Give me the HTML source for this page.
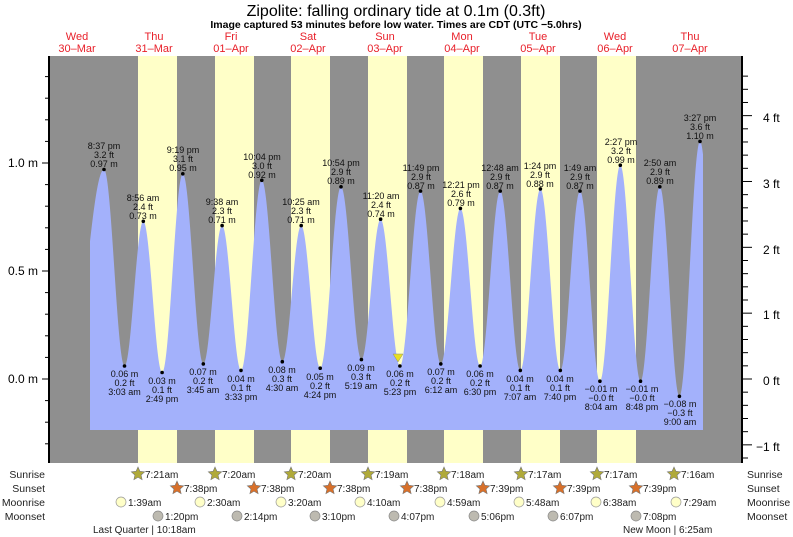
<!DOCTYPE html>
<html><head><meta charset="utf-8"><style>
html,body{margin:0;padding:0;background:#fff;}
svg{display:block;font-family:"Liberation Sans",sans-serif;}
</style></head><body>
<svg id="s" width="793" height="537" viewBox="0 0 793 537" xmlns="http://www.w3.org/2000/svg">
<text x="396" y="16" font-size="16" text-anchor="middle">Zipolite: falling  ordinary tide at 0.1m (0.3ft)</text>
<text x="396" y="28" font-size="10.5" font-weight="bold" text-anchor="middle">Image captured 53 minutes before low water. Times are CDT (UTC −5.0hrs)</text>
<g font-size="11" fill="#e8202a" text-anchor="middle">
<text x="77" y="40">Wed</text><text x="77" y="52">30–Mar</text>
<text x="154" y="40">Thu</text><text x="154" y="52">31–Mar</text>
<text x="231" y="40">Fri</text><text x="231" y="52">01–Apr</text>
<text x="308" y="40">Sat</text><text x="308" y="52">02–Apr</text>
<text x="385" y="40">Sun</text><text x="385" y="52">03–Apr</text>
<text x="462" y="40">Mon</text><text x="462" y="52">04–Apr</text>
<text x="538" y="40">Tue</text><text x="538" y="52">05–Apr</text>
<text x="615" y="40">Wed</text><text x="615" y="52">06–Apr</text>
<text x="690" y="40">Thu</text><text x="690" y="52">07–Apr</text>
</g>
<rect x="49" y="56" width="693" height="407" fill="#8f8f8f"/>
<g fill="#ffffc8">
<rect x="138" y="56" width="39" height="407"/><rect x="215" y="56" width="39" height="407"/>
<rect x="291" y="56" width="39" height="407"/><rect x="368" y="56" width="39" height="407"/>
<rect x="444" y="56" width="39" height="407"/><rect x="521" y="56" width="39" height="407"/>
<rect x="597" y="56" width="39" height="407"/>
</g>
<path id="tide" fill="#a3b1fb" d=""/>
<line x1="49" y1="56" x2="49" y2="463" stroke="#000" stroke-width="2"/>
<line x1="742" y1="56" x2="742" y2="463" stroke="#000" stroke-width="2"/>
<g id="ticks" stroke="#000" stroke-width="1"></g>
<g font-size="12" text-anchor="end">
<text x="38" y="167">1.0 m</text><text x="38" y="275">0.5 m</text><text x="38" y="383">0.0 m</text>
</g>
<g font-size="12">
<text x="763" y="122">4 ft</text><text x="763" y="188">3 ft</text><text x="763" y="254">2 ft</text>
<text x="763" y="319">1 ft</text><text x="763" y="385">0 ft</text><text x="756" y="451">−1 ft</text>
</g>
<polygon points="393,354 403,354 398,362" fill="#e8e020" stroke="#888" stroke-width="0.5"/>
<g id="dots" fill="#000"></g>
<g font-size="9" text-anchor="middle" fill="#111">
<text x="104" y="149">8:37 pm</text><text x="104" y="158">3.2 ft</text><text x="104" y="167">0.97 m</text>
<text x="124.5" y="377">0.06 m</text><text x="124.5" y="386">0.2 ft</text><text x="124.5" y="395">3:03 am</text>
<text x="143" y="201">8:56 am</text><text x="143" y="210">2.4 ft</text><text x="143" y="219">0.73 m</text>
<text x="162" y="384">0.03 m</text><text x="162" y="393">0.1 ft</text><text x="162" y="402">2:49 pm</text>
<text x="183" y="153">9:19 pm</text><text x="183" y="162">3.1 ft</text><text x="183" y="171">0.95 m</text>
<text x="203" y="375">0.07 m</text><text x="203" y="384">0.2 ft</text><text x="203" y="393">3:45 am</text>
<text x="222" y="205">9:38 am</text><text x="222" y="214">2.3 ft</text><text x="222" y="223">0.71 m</text>
<text x="241" y="382">0.04 m</text><text x="241" y="391">0.1 ft</text><text x="241" y="400">3:33 pm</text>
<text x="262" y="160">10:04 pm</text><text x="262" y="169">3.0 ft</text><text x="262" y="178">0.92 m</text>
<text x="282" y="373">0.08 m</text><text x="282" y="382">0.3 ft</text><text x="282" y="391">4:30 am</text>
<text x="301" y="205">10:25 am</text><text x="301" y="214">2.3 ft</text><text x="301" y="223">0.71 m</text>
<text x="320" y="380">0.05 m</text><text x="320" y="389">0.2 ft</text><text x="320" y="398">4:24 pm</text>
<text x="341" y="166">10:54 pm</text><text x="341" y="175">2.9 ft</text><text x="341" y="184">0.89 m</text>
<text x="361" y="371">0.09 m</text><text x="361" y="380">0.3 ft</text><text x="361" y="389">5:19 am</text>
<text x="381" y="199">11:20 am</text><text x="381" y="208">2.4 ft</text><text x="381" y="217">0.74 m</text>
<text x="400" y="377">0.06 m</text><text x="400" y="386">0.2 ft</text><text x="400" y="395">5:23 pm</text>
<text x="421" y="171">11:49 pm</text><text x="421" y="180">2.9 ft</text><text x="421" y="189">0.87 m</text>
<text x="441" y="375">0.07 m</text><text x="441" y="384">0.2 ft</text><text x="441" y="393">6:12 am</text>
<text x="461" y="188">12:21 pm</text><text x="461" y="197">2.6 ft</text><text x="461" y="206">0.79 m</text>
<text x="480" y="377">0.06 m</text><text x="480" y="386">0.2 ft</text><text x="480" y="395">6:30 pm</text>
<text x="500" y="171">12:48 am</text><text x="500" y="180">2.9 ft</text><text x="500" y="189">0.87 m</text>
<text x="520" y="382">0.04 m</text><text x="520" y="391">0.1 ft</text><text x="520" y="400">7:07 am</text>
<text x="540" y="169">1:24 pm</text><text x="540" y="178">2.9 ft</text><text x="540" y="187">0.88 m</text>
<text x="560" y="382">0.04 m</text><text x="560" y="391">0.1 ft</text><text x="560" y="400">7:40 pm</text>
<text x="580" y="171">1:49 am</text><text x="580" y="180">2.9 ft</text><text x="580" y="189">0.87 m</text>
<text x="601" y="392">−0.01 m</text><text x="601" y="401">−0.0 ft</text><text x="601" y="410">8:04 am</text>
<text x="621" y="145">2:27 pm</text><text x="621" y="154">3.2 ft</text><text x="621" y="163">0.99 m</text>
<text x="642" y="392">−0.01 m</text><text x="642" y="401">−0.0 ft</text><text x="642" y="410">8:48 pm</text>
<text x="660" y="166">2:50 am</text><text x="660" y="175">2.9 ft</text><text x="660" y="184">0.89 m</text>
<text x="680" y="407">−0.08 m</text><text x="680" y="416">−0.3 ft</text><text x="680" y="425">9:00 am</text>
<text x="700" y="121">3:27 pm</text><text x="700" y="130">3.6 ft</text><text x="700" y="139">1.10 m</text>
</g>
<g font-size="10.5" fill="#222">
<text x="45" y="478" text-anchor="end">Sunrise</text><text x="45" y="492" text-anchor="end">Sunset</text>
<text x="45" y="506" text-anchor="end">Moonrise</text><text x="45" y="520" text-anchor="end">Moonset</text>
<text x="747" y="478">Sunrise</text><text x="747" y="492">Sunset</text>
<text x="747" y="506">Moonrise</text><text x="747" y="520">Moonset</text>
</g>
<g id="icons"></g>
<g font-size="10" fill="#222">
<text x="145" y="478">7:21am</text><text x="222" y="478">7:20am</text><text x="298" y="478">7:20am</text><text x="375" y="478">7:19am</text>
<text x="451" y="478">7:18am</text><text x="528" y="478">7:17am</text><text x="604" y="478">7:17am</text><text x="681" y="478">7:16am</text>
<text x="184" y="492">7:38pm</text><text x="261" y="492">7:38pm</text><text x="337" y="492">7:38pm</text><text x="414" y="492">7:38pm</text>
<text x="490" y="492">7:39pm</text><text x="567" y="492">7:39pm</text><text x="643" y="492">7:39pm</text>
<text x="128" y="506">1:39am</text><text x="207" y="506">2:30am</text><text x="288" y="506">3:20am</text><text x="367" y="506">4:10am</text>
<text x="447" y="506">4:59am</text><text x="526" y="506">5:48am</text><text x="603" y="506">6:38am</text><text x="683" y="506">7:29am</text>
<text x="165" y="520">1:20pm</text><text x="244" y="520">2:14pm</text><text x="322" y="520">3:10pm</text><text x="401" y="520">4:07pm</text>
<text x="481" y="520">5:06pm</text><text x="560" y="520">6:07pm</text><text x="643" y="520">7:08pm</text>
<text x="93" y="533">Last Quarter | 10:18am</text><text x="623" y="533">New Moon | 6:25am</text>
</g>
</svg>
<script>
var E=[[70,367],[104,169.5],[124.5,366],[143.3,221.3],[162.1,372.5],[182.8,173.8],[203.3,363.9],[222.1,225.6],[241,370.4],[261.8,180.3],[282.3,361.7],[301.2,225.6],[320.2,368.2],[341,186.8],[361.4,359.6],[380.6,219.2],[399.9,366],[420.5,191.1],[440.8,363.9],[460.4,208.4],[480.1,366],[500.2,191.1],[520.3,370.4],[540.4,188.9],[560.3,370.4],[580,191.1],[599.9,381.2],[620.3,165.2],[640.5,381.2],[659.8,186.8],[679.4,396.3],[700,141.4],[720,380]];
function f(x){for(var i=0;i<E.length-1;i++){var a=E[i],b=E[i+1];if(x>=a[0]&&x<=b[0]){var t=(x-a[0])/(b[0]-a[0]);return a[1]+(b[1]-a[1])*(1-Math.cos(Math.PI*t))/2;}}return 380;}
var d="M90,430";for(var x=90;x<=703;x+=0.5)d+=" L"+x+","+f(x).toFixed(1);d+=" L703,430 Z";
document.getElementById("tide").setAttribute("d",d);
var ns="http://www.w3.org/2000/svg";
function el(p,n,a){var e=document.createElementNS(ns,n);for(var k in a)e.setAttribute(k,a[k]);p.appendChild(e);return e;}
var dots=document.getElementById("dots");for(var i=1;i<E.length-1;i++)el(dots,"circle",{cx:E[i][0],cy:E[i][1],r:1.8});
var tk=document.getElementById("ticks");
for(var m=-0.3;m<=1.45;m+=0.1){var y=379-m*216;if(y<57||y>462)continue;var mj=Math.abs(m*2-Math.round(m*2))<0.01;el(tk,"line",{x1:mj?42:45,y1:y,x2:49,y2:y});}
for(var ft=-1.4;ft<=4.8;ft+=0.2){var y=379-ft*65.84;if(y<57||y>462)continue;var mj=Math.abs(ft-Math.round(ft))<0.01;el(tk,"line",{x1:742,y1:y,x2:mj?752:748,y2:y});}
var ic=document.getElementById("icons");
function star(cx,cy,fill){var p="";for(var k=0;k<10;k++){var r=k%2?3.3:7,a=-Math.PI/2+k*Math.PI/5;p+=(cx+r*Math.cos(a)).toFixed(1)+","+(cy+r*Math.sin(a)).toFixed(1)+" ";}el(ic,"polygon",{points:p,fill:fill,stroke:"#777","stroke-width":0.6});}
[138,215,291,368,444,521,597,674].forEach(function(x){star(x,474,"#b0aa3a");});
[177,254,330,407,483,560,636].forEach(function(x){star(x,488,"#d8702a");});
[121,200,281,360,440,519,596,676].forEach(function(x){el(ic,"circle",{cx:x,cy:502,r:5,fill:"#ffffc8",stroke:"#999","stroke-width":0.7});});
[158,237,315,394,474,553,636].forEach(function(x){el(ic,"circle",{cx:x,cy:516,r:5,fill:"#bdbab0",stroke:"#888","stroke-width":0.7});});
</script>
</body></html>
